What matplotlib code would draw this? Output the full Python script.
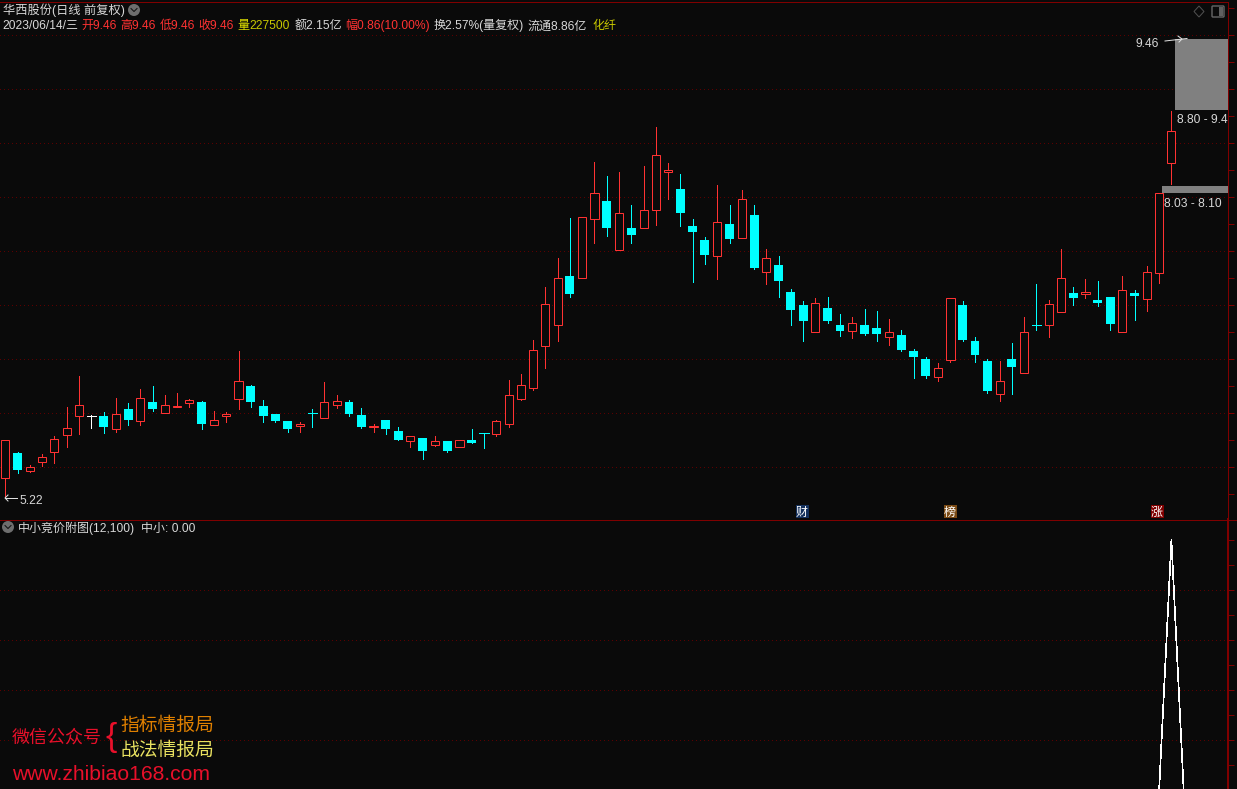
import matplotlib
matplotlib.use("Agg")
import matplotlib.pyplot as plt
from matplotlib.patches import Circle, Polygon, Rectangle, FancyBboxPatch

# daily candles
opens = [5.40, 5.63, 5.46, 5.54, 5.64, 5.79, 5.97, 5.97, 5.97, 5.85, 6.03, 5.92, 6.10, 6.00, 6.05, 6.09,
         6.10, 5.89, 5.97, 6.13, 6.25, 6.06, 5.99, 5.92, 5.88, 6.00, 5.95, 6.07, 6.10, 5.98, 5.87, 5.93,
         5.83, 5.74, 5.77, 5.70, 5.74, 5.68, 5.75, 5.81, 5.80, 5.90, 6.13, 6.23, 6.62, 6.81, 7.27, 7.25,
         7.79, 7.96, 7.51, 7.71, 7.71, 7.88, 8.23, 8.07, 7.73, 7.60, 7.45, 7.75, 7.62, 7.83, 7.30, 7.37,
         7.12, 7.00, 6.75, 6.97, 6.81, 6.76, 6.81, 6.78, 6.70, 6.72, 6.57, 6.50, 6.33, 6.49, 7.00, 6.66,
         6.48, 6.17, 6.50, 6.37, 6.81, 6.81, 6.93, 7.11, 7.10, 7.04, 7.07, 6.75, 7.11, 7.05, 7.29, 8.31, 9.46]
highs = [5.75, 5.64, 5.52, 5.62, 5.78, 6.05, 6.34, 5.98, 6.01, 6.14, 6.09, 6.22, 6.25, 6.16, 6.18, 6.13,
         6.11, 6.02, 6.01, 6.57, 6.26, 6.12, 5.99, 5.92, 5.91, 6.03, 6.28, 6.16, 6.12, 6.04, 5.90, 5.93,
         5.87, 5.78, 5.77, 5.78, 5.74, 5.75, 5.85, 5.81, 5.93, 6.30, 6.36, 6.67, 7.16, 7.43, 7.80, 7.81,
         8.32, 8.19, 8.23, 7.92, 8.28, 8.65, 8.31, 8.21, 7.79, 7.63, 8.11, 7.92, 8.06, 7.92, 7.52, 7.45,
         7.15, 7.03, 7.06, 7.07, 6.91, 6.89, 6.96, 6.94, 6.87, 6.77, 6.59, 6.52, 6.46, 7.06, 7.03, 6.70,
         6.50, 6.48, 6.65, 6.89, 7.19, 7.04, 7.52, 7.16, 7.24, 7.22, 7.07, 7.27, 7.14, 7.36, 8.03, 8.79, 9.46]
lows = [5.22, 5.44, 5.45, 5.51, 5.53, 5.68, 5.80, 5.86, 5.81, 5.82, 5.89, 5.89, 6.02, 6.00, 6.05, 6.05,
        5.85, 5.89, 5.91, 6.03, 6.05, 5.91, 5.91, 5.82, 5.82, 5.87, 5.95, 6.04, 5.97, 5.86, 5.82, 5.80,
        5.75, 5.68, 5.57, 5.69, 5.64, 5.68, 5.72, 5.67, 5.78, 5.87, 6.12, 6.21, 6.41, 6.66, 7.07, 7.25,
        7.57, 7.64, 7.51, 7.57, 7.71, 7.74, 7.98, 7.73, 7.21, 7.38, 7.24, 7.57, 7.62, 7.33, 7.19, 7.07,
        6.81, 6.66, 6.75, 6.83, 6.71, 6.69, 6.72, 6.66, 6.63, 6.57, 6.32, 6.32, 6.29, 6.47, 6.66, 6.47,
        6.18, 6.11, 6.17, 6.37, 6.77, 6.70, 6.93, 7.00, 7.06, 6.99, 6.77, 6.75, 6.86, 6.94, 7.20, 8.12, 9.46]
closes = [5.75, 5.47, 5.50, 5.59, 5.76, 5.86, 6.07, 5.97, 5.87, 5.99, 5.93, 6.14, 6.03, 6.07, 6.06, 6.12,
          5.90, 5.93, 5.99, 6.29, 6.10, 5.97, 5.92, 5.85, 5.90, 6.00, 6.10, 6.11, 5.99, 5.87, 5.88, 5.85,
          5.75, 5.78, 5.65, 5.74, 5.65, 5.75, 5.72, 5.81, 5.92, 6.16, 6.26, 6.58, 7.01, 7.25, 7.10, 7.81,
          8.03, 7.71, 7.85, 7.65, 7.88, 8.39, 8.25, 7.85, 7.67, 7.46, 7.77, 7.61, 7.98, 7.34, 7.43, 7.22,
          6.95, 6.85, 7.02, 6.85, 6.76, 6.83, 6.73, 6.73, 6.75, 6.58, 6.52, 6.34, 6.41, 7.06, 6.67, 6.53,
          6.20, 6.29, 6.42, 6.75, 6.81, 7.01, 7.25, 7.06, 7.12, 7.02, 6.82, 7.14, 7.08, 7.30, 8.03, 8.61, 9.46]
cross_cyan = [25, 39, 84]
cross_white = [7, 96]

# lower pane indicator (only the bars around the end are off zero)
indicator = [0] * 95 + [100, 0]

gap_low = [8.03, 8.80]
gap_high = [8.10, 9.46]
gap_start = [94.25, 95.33]
gap_labels = ["8.03 - 8.10", "8.80 - 9.4"]

BG = "#0a0a0a"
RED = "#ff3232"
CYAN = "#00ffff"
FRAME = "#800000"
GRID = "#5c0000"
TEXT = "#d8d8d8"
W, H = 1237, 789
PX = 0.72  # one pixel, in points
FONT = ["Liberation Sans", "Noto Sans CJK SC"]

fig = plt.figure(figsize=(W / 100, H / 100), dpi=100, facecolor=BG)


def pane(y_top, y_bot):
    ax = fig.add_axes([0, 1 - y_bot / H, 1227.5 / W, (y_bot - y_top) / H], facecolor=BG)
    ax.set_xlim(-0.432, 99.57)
    ax.set_xticks([])
    for s in ["top", "left", "bottom"]:
        ax.spines[s].set_visible(False)
    ax.spines["right"].set_color(FRAME)
    ax.yaxis.tick_right()
    ax.tick_params(axis="y", which="both", length=4, width=PX, color=FRAME, labelright=False)
    ax.grid(axis="y", which="major", color=GRID, lw=PX, linestyle=(0, (1, 3)), zorder=0)
    ax.set_axisbelow(True)
    return ax


# price pane
ax = pane(2, 519)
ax.set_ylim(5.016, 9.803)
ax.set_yticks([5.5, 6.0, 6.5, 7.0, 7.5, 8.0, 8.5, 9.0, 9.5])
ax.set_yticks([5.25, 5.75, 6.25, 6.75, 7.25, 7.75, 8.25, 8.75, 9.25, 9.75], minor=True)
ax.spines["right"].set_linewidth(PX)
for line in ax.get_ygridlines():
    line.set_antialiased(False)

for i in range(len(opens)):
    o, h, l, c = opens[i], highs[i], lows[i], closes[i]
    if i in cross_white:
        color = "#ffffff"
    elif i in cross_cyan or c < o:
        color = CYAN
    else:
        color = RED
    ax.vlines(i, l, h, color=color, lw=PX, zorder=2, antialiased=False)
    if o == c:
        ax.hlines(c, i - 0.37, i + 0.37, color=color, lw=PX, zorder=3, antialiased=False)
    elif c > o:
        ax.bar(i, c - o, bottom=o, width=0.66, facecolor=BG, edgecolor=color, lw=PX, zorder=3)
    else:
        ax.bar(i, o - c, bottom=c, width=0.73, facecolor=color, edgecolor="none", zorder=3)

for lo, hi, start in zip(gap_low, gap_high, gap_start):
    ax.add_patch(Rectangle((start, lo), 100 - start, hi - lo, facecolor="#808080", edgecolor="none", zorder=4))

# indicator pane, the 100 tick has no grid line in the original
ax2 = pane(519, 790)
ax2.set_ylim(0, 108.4)
ax2.set_yticks([20, 40, 60, 80])
ax2.set_yticks([10, 30, 50, 70, 90, 100], minor=True)
ax2.spines["right"].set_linewidth(2 * PX)
for line in ax2.get_ygridlines():
    line.set_antialiased(False)
ax2.plot(range(len(indicator)), indicator, color="#ffffff", lw=0.5, antialiased=False, zorder=3)

# overlay in pixel coordinates for the text and the icons
ov = fig.add_axes([0, 0, 1, 1], facecolor="none")
ov.set_xlim(0, W)
ov.set_ylim(H, 0)
ov.axis("off")


def txt(x, y, s, color=TEXT, px=12, ha="left"):
    ov.text(x, y + px * 0.36, s, color=color, fontsize=px * PX, family=FONT, va="baseline", ha=ha)


def chevron(x, y):
    ov.add_patch(Circle((x, y), 6, facecolor="#6e6e6e", edgecolor="none"))
    ov.plot([x - 3, x, x + 3], [y - 1.5, y + 1.5, y - 1.5], color="#101010", lw=PX)


ov.plot([0, 1228], [1.5, 1.5], color=FRAME, lw=PX)
ov.plot([0, 1237], [519.5, 519.5], color=FRAME, lw=PX)

txt(3, 10, "华西股份(日线 前复权)", px=12.2)
chevron(134, 10)
txt(2, 25, "2023/06/14/三")
for x, s, col in [(81, "开9.46", RED), (120, "高9.46", RED), (160, "低9.46", RED), (198, "收9.46", RED),
                  (237, "量", "#e0e000"), (249, "227500", "#c8c800"), (295, "额2.15亿", TEXT),
                  (345, "幅0.86(10.00%)", RED), (434, "换2.57%(量复权)", TEXT), (527, "流通8.86亿", TEXT),
                  (592, "化纤", "#c8c800")]:
    txt(x, 25, s, color=col)

# corner icons
ov.add_patch(Polygon([(1199, 6), (1204, 11.5), (1199, 17), (1194, 11.5)], closed=True, fill=False, edgecolor="#505050", lw=PX))
ov.add_patch(FancyBboxPatch((1213, 7), 10, 9, boxstyle="round,pad=1", fill=False, edgecolor="#606060", lw=PX * 1.5))
ov.add_patch(Rectangle((1219, 7), 4, 9, facecolor="#606060", edgecolor="none"))

# low and high markers
ov.plot([5, 17], [498, 498], color="#e0e0e0", lw=PX)
ov.plot([8, 5, 8], [495, 498, 501], color="#e0e0e0", lw=PX)
txt(19, 499.5, "5.22")
ov.plot([1165, 1187], [41, 38.5], color="#e0e0e0", lw=PX)
ov.plot([1178, 1182, 1179], [36, 39, 42], color="#e0e0e0", lw=PX)
txt(1136, 43, "9.46")
txt(1177, 119, gap_labels[1])
txt(1164, 203, gap_labels[0])

# event badges
for x, s, bg in [(802, "财", "#14305c"), (950, "榜", "#7a4a14"), (1157, "涨", "#800000")]:
    ov.add_patch(Rectangle((x - 6.5, 505), 13, 13, facecolor=bg, edgecolor="none"))
    txt(x, 511.5, s, color="#ffffff", px=12, ha="center")

chevron(8, 527)
txt(18, 528, "中小竞价附图(12,100)")
txt(141, 528, "中小: 0.00")

# watermark
txt(12, 736, "微信公众号", color="#e8102a", px=18)
txt(105, 734, "{", color="#e8102a", px=34)
txt(120, 724, "指标情报局", color="#e08000", px=18.8)
txt(120, 749, "战法情报局", color="#e8e060", px=18.8)
txt(12, 772, "www.zhibiao168.com", color="#e8102a", px=21.2)

fig.savefig("out.png", dpi=100, facecolor=BG)
